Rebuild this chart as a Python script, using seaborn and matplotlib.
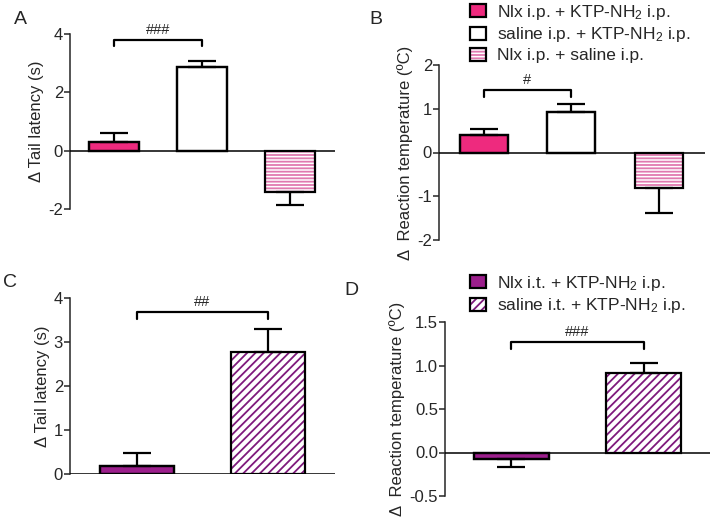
import numpy as np
import pandas as pd
import seaborn as sns
import matplotlib.pyplot as plt
from matplotlib.patches import Patch, Rectangle

# data (mean, upper/lower SEM)
ab_groups = ['Nlx i.p. + KTP-NH$_2$ i.p.', 'saline i.p. + KTP-NH$_2$ i.p.', 'Nlx i.p. + saline i.p.']
a_mean = [0.30, 2.88, -1.40]
a_sem = [0.32, 0.18, 0.45]
b_mean = [0.39, 0.93, -0.82]
b_sem = [0.14, 0.19, 0.57]

cd_groups = ['Nlx i.t. + KTP-NH$_2$ i.p.', 'saline i.t. + KTP-NH$_2$ i.p.']
c_mean = [0.18, 2.77]
c_sem = [0.29, 0.53]
d_mean = [-0.08, 0.91]
d_sem = [0.09, 0.12]

pink = '#EE2A7E'
pink_hatch = '#E07AB0'
purple = '#9C1F8C'
purple_hatch = '#7E1A7C'

sns.set_style('ticks')
plt.rcParams['font.family'] = ['Liberation Sans', 'DejaVu Sans']
plt.rcParams['mathtext.fontset'] = 'custom'
plt.rcParams['mathtext.rm'] = 'Liberation Sans'
plt.rcParams['mathtext.it'] = 'Liberation Sans:italic'
plt.rcParams['hatch.linewidth'] = 1.3

ab_styles = [dict(fc=pink, hatch=None, hc=None),
             dict(fc='white', hatch=None, hc=None),
             dict(fc='white', hatch='-----', hc=pink_hatch)]
cd_styles = [dict(fc=purple, hatch=None, hc=None),
             dict(fc='white', hatch='////', hc=purple_hatch)]

fig = plt.figure(figsize=(7.10, 5.24), dpi=100)


def panel(rect, groups, mean, sem, styles, ylim, yticks, ticklabels, ylabel,
          xlim, width, star, bar_y, drop, letter, letter_xy):
    ax = fig.add_axes(rect)
    df = pd.DataFrame({'group': groups, 'value': mean})
    sns.barplot(data=df, x='group', y='value', hue='group', palette=['white'] * len(groups),
                legend=False, width=width, ax=ax, errorbar=None)
    outlines = []
    for p, st in zip(ax.patches, styles):
        if st['hatch']:
            p.set_facecolor('white')
            p.set_edgecolor(st['hc'])
            p.set_hatch(st['hatch'])
            p.set_linewidth(0)
        else:
            p.set_facecolor(st['fc'])
            p.set_edgecolor('black')
            p.set_linewidth(1.6)
        outlines.append((p.get_x(), p.get_y(), p.get_width(), p.get_height()))
    for x, y, w, h in outlines:
        ax.add_patch(Rectangle((x, y), w, h, fill=False, ec='black', lw=1.6, zorder=3))
    xs = np.arange(len(groups))
    for x, m, s in zip(xs, mean, sem):
        err = [[0], [s]] if m >= 0 else [[s], [0]]
        ax.errorbar([x], [m], yerr=err, fmt='none', ecolor='black', elinewidth=1.6,
                    capsize=10, capthick=1.6, zorder=2)
    ax.axhline(0, color='black', lw=1.1, zorder=4)
    # significance bracket
    ax.plot([0, 0, 1, 1], [bar_y - drop, bar_y, bar_y, bar_y - drop], color='black',
            lw=1.6, clip_on=False)
    ax.text(0.5, bar_y + drop * 0.5, star, ha='center', va='bottom', fontsize=10.5)
    ax.set_xlim(*xlim)
    ax.set_ylim(*ylim)
    ax.set_yticks(yticks)
    ax.set_yticklabels(ticklabels)
    ax.set_xticks([])
    ax.set_xlabel('')
    ax.set_ylabel(ylabel, fontsize=12, labelpad=3)
    sns.despine(ax=ax, bottom=True)
    ax.spines['left'].set_linewidth(1.1)
    ax.tick_params(axis='y', labelsize=12, width=1.1, length=4, pad=1)
    fig.text(letter_xy[0], letter_xy[1], letter, fontsize=14, ha='left', va='top')
    return ax


ax_a = panel([70 / 710, 1 - 209 / 524, 265 / 710, 175 / 524], ab_groups, a_mean, a_sem,
             ab_styles, (-2, 4), [-2, 0, 2, 4], ['-2', '0', '2', '4'],
             '\u0394 Tail latency (s)', (-0.5, 2.51), 0.57, '###', 3.8, 0.2,
             'A', (14 / 710, 1 - 11 / 524))

ax_b = panel([439 / 710, 1 - 240 / 524, 266 / 710, 175 / 524], ab_groups, b_mean, b_sem,
             ab_styles, (-2, 2), [-2, -1, 0, 1, 2], ['-2', '-1', '0', '1', '2'],
             '\u0394  Reaction temperature (\u00baC)', (-0.51, 2.53), 0.55, '#', 1.43, 0.15,
             'B', (369 / 710, 1 - 11 / 524))

ax_c = panel([70 / 710, 1 - 474 / 524, 265 / 710, 176 / 524], cd_groups, c_mean, c_sem,
             cd_styles, (0, 4), [0, 1, 2, 3, 4], ['0', '1', '2', '3', '4'],
             '\u0394 Tail latency (s)', (-0.51, 1.51), 0.565, '##', 3.68, 0.16,
             'C', (3 / 710, 1 - 274 / 524))

ax_d = panel([445 / 710, 1 - 496 / 524, 265 / 710, 174 / 524], cd_groups, d_mean, d_sem,
             cd_styles, (-0.5, 1.5), [-0.5, 0.0, 0.5, 1.0, 1.5],
             ['-0.5', '0.0', '0.5', '1.0', '1.5'],
             '\u0394  Reaction temperature (\u00baC)', (-0.5, 1.5), 0.565, '###', 1.27, 0.08,
             'D', (344 / 710, 1 - 282 / 524))


def legend_handles(groups, styles):
    hs = []
    for g, st in zip(groups, styles):
        if st['hatch']:
            hs.append((Patch(facecolor='white', edgecolor=st['hc'], hatch=st['hatch'],
                             linewidth=0),
                       Patch(fill=False, edgecolor='black', linewidth=1.6)))
        else:
            hs.append(Patch(facecolor=st['fc'], edgecolor='black', linewidth=1.6))
    return hs


for groups, styles, anchor in [(ab_groups, ab_styles, (468 / 710, 1 - 1 / 524)),
                               (cd_groups, cd_styles, (468 / 710, 1 - 272 / 524))]:
    fig.legend(handles=legend_handles(groups, styles), labels=groups, loc='upper left',
               bbox_to_anchor=anchor, frameon=False, fontsize=12.5, handlelength=0.95,
               handleheight=0.8, handletextpad=0.6, labelspacing=0.2, borderaxespad=0,
               borderpad=0.1)

fig.savefig('out.png', dpi=100)
